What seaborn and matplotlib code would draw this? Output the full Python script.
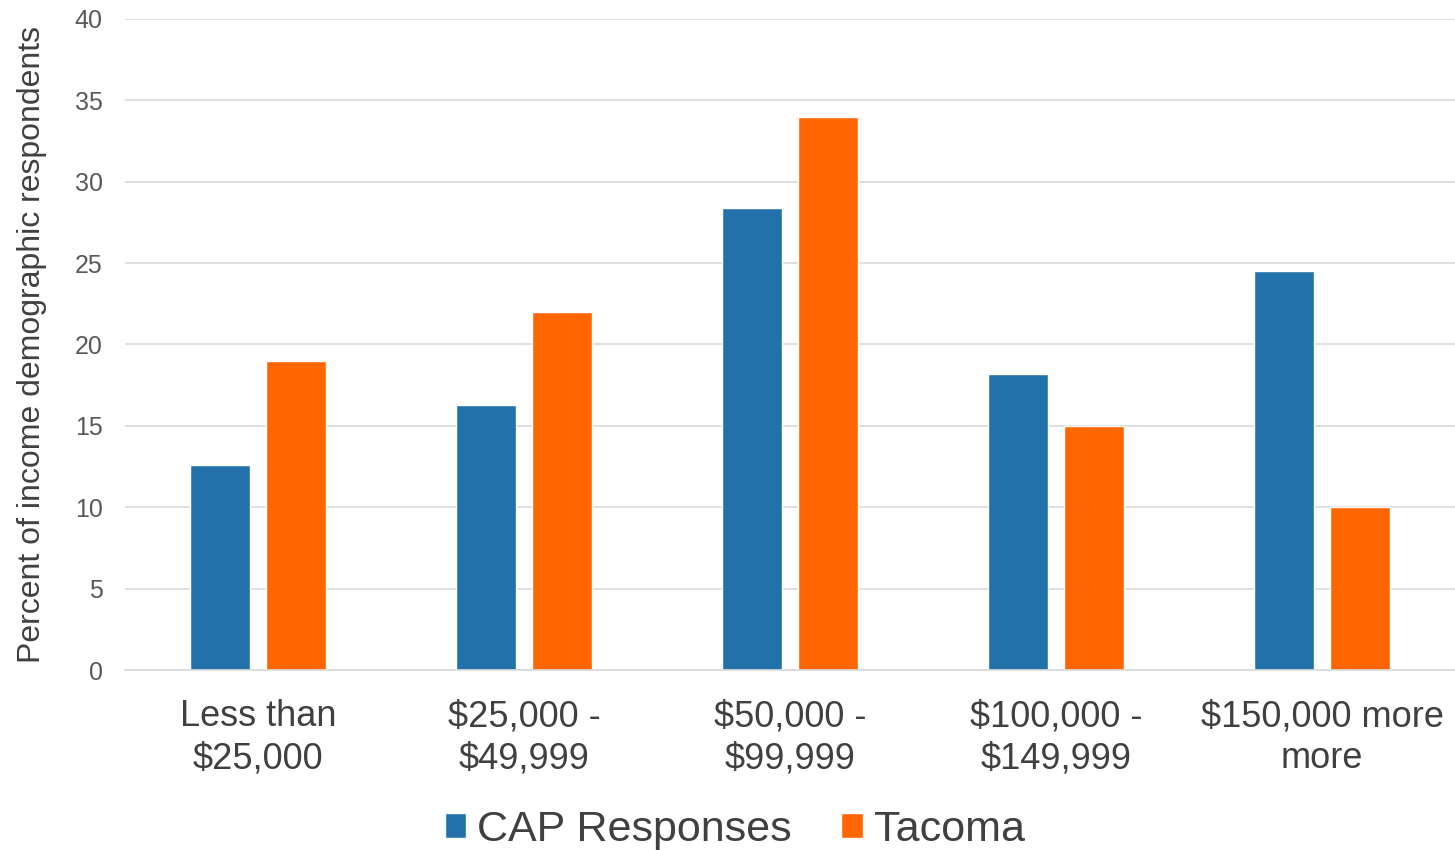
import pandas as pd
import seaborn as sns
import matplotlib.pyplot as plt
from matplotlib.patches import Patch

# data
categories = ['Less than\n$25,000', '$25,000 -\n$49,999', '$50,000 -\n$99,999',
              '$100,000 -\n$149,999', '$150,000 more\nmore']
cap = [12.6, 16.3, 28.4, 18.2, 24.5]
tacoma = [19.0, 22.0, 34.0, 15.0, 10.0]
series = ['CAP Responses', 'Tacoma']
colors = ['#2271AB', '#FF6600']

df = pd.DataFrame({
    'Income': categories * 2,
    'Percent': cap + tacoma,
    'Group': [series[0]] * 5 + [series[1]] * 5,
})

sns.set_style('white')
plt.rcParams['font.family'] = ['Liberation Sans', 'DejaVu Sans']

fig = plt.figure(figsize=(14.55, 8.5), dpi=100)
ax = fig.add_axes([125 / 1455, 1 - 670 / 850, 1330 / 1455, 651 / 850])

sns.barplot(data=df, x='Income', y='Percent', hue='Group', palette=colors,
            width=0.568, gap=0.2, saturation=1, ax=ax, legend=False)

ax.set_ylim(0, 40)
ax.set_xlim(-0.5, 4.5)
ax.set_yticks(range(0, 41, 5))
ax.yaxis.grid(True, color='#D9D9D9', linewidth=1.2)
ax.set_axisbelow(True)
for s in ['top', 'right', 'left']:
    ax.spines[s].set_visible(False)
ax.spines['bottom'].set_color('#D9D9D9')
ax.spines['bottom'].set_linewidth(1.2)
ax.tick_params(axis='y', length=0, pad=16, labelsize=18, labelcolor='#595959')
ax.tick_params(axis='x', length=0, pad=21, labelsize=26, labelcolor='#404040')
for lbl in ax.get_xticklabels():
    lbl.set_linespacing(1.27)
ax.set_xlabel('')
ax.set_ylabel('Percent of income demographic respondents', fontsize=23,
              color='#404040', labelpad=20)

handles = [Patch(facecolor=c, label=l) for c, l in zip(colors, series)]
fig.legend(handles=handles, loc='center', bbox_to_anchor=(0.505, 1 - 830 / 850),
           ncol=2, frameon=False, fontsize=31, labelcolor='#404040',
           handlelength=0.5, handleheight=0.5, handletextpad=0.25,
           columnspacing=1.15)

fig.savefig('out.png', dpi=100)
